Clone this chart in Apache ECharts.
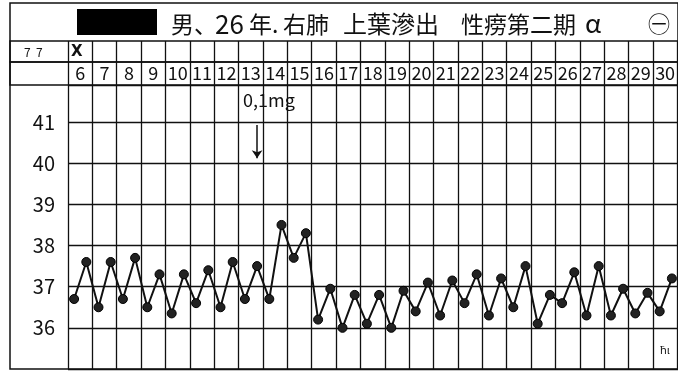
<!DOCTYPE html>
<html>
<head>
<meta charset="utf-8">
<script src="https://cdn.jsdelivr.net/npm/echarts@6/dist/echarts.min.js"></script>
<style>
html, body { margin: 0; padding: 0; background: #fff; }
#chart { width: 678px; height: 372px; }
</style>
</head>
<body>
<div id="chart"></div>
<script>
var dom = document.getElementById("chart");
var myChart = echarts.init(dom);

// days of October (column labels)
var days = ['6','7','8','9','10','11','12','13','14','15','16','17','18','19','20',
            '21','22','23','24','25','26','27','28','29','30'];
// morning / evening temperatures per day
var amTemps = [36.7, 36.5, 36.7, 36.5, 36.35, 36.6, 36.5, 36.7, 36.7, 37.7,
               36.2, 36.0, 36.1, 36.0, 36.4, 36.3, 36.6, 36.3, 36.5, 36.1,
               36.6, 36.3, 36.3, 36.35, 36.4];
var pmTemps = [37.6, 37.6, 37.7, 37.3, 37.3, 37.4, 37.6, 37.5, 38.5, 38.3,
               36.95, 36.8, 36.8, 36.9, 37.1, 37.15, 37.3, 37.2, 37.5, 36.8,
               37.35, 37.5, 36.95, 36.85, 37.2];
var tempTicks = [36, 37, 38, 39, 40, 41];
var doseDay = '13';
var doseText = '0,1mg';

var slots = [];
var temps = [];
for (var i = 0; i < days.length; i++) {
    slots.push(days[i] + '朝', days[i] + '夕');
    temps.push(amTemps[i], pmTemps[i]);
}
var doseSlot = doseDay + '夕';

var ink = '#111';
var cjk = '"Noto Sans CJK JP", "Noto Sans", sans-serif';

function txt(x, y, s, size, extra) {
    var o = {
        type: 'text', x: x, y: y, silent: true,
        style: { text: s, fill: ink, font: size + 'px ' + cjk, textVerticalAlign: 'middle' }
    };
    if (extra) { for (var k in extra) o.style[k] = extra[k]; }
    return o;
}

option = {
    animation: false,
    backgroundColor: '#fff',
    grid: [
        { left: 10, top: 3, right: -5, bottom: 3, show: true, borderColor: ink, borderWidth: 1.5 },
        { left: 10, top: 41, right: -5, height: 21, show: true, borderColor: ink, borderWidth: 1.5 },
        { left: 10, top: 62, right: -5, height: 23, show: true, borderColor: ink, borderWidth: 1.5 },
        { left: 68, top: 41, right: -5, bottom: 3 },
        { left: 68, top: 85, right: -5, bottom: 3 }
    ],
    xAxis: [
        {
            type: 'category', gridIndex: 3, data: days, position: 'top',
            axisLine: { show: false }, axisTick: { show: false },
            axisLabel: { interval: 0, inside: true, margin: 23, color: ink, fontSize: 18, fontFamily: cjk },
            splitLine: { show: true, interval: 0, lineStyle: { color: ink, width: 1.3 } }
        },
        { type: 'category', gridIndex: 4, data: slots, show: false }
    ],
    yAxis: [
        { type: 'value', gridIndex: 3, show: false, min: 0, max: 1 },
        {
            type: 'value', gridIndex: 4, min: 35, max: 41.9, interval: 1,
            axisLine: { show: false }, axisTick: { show: false },
            axisLabel: {
                margin: 13, color: ink, fontSize: 20, fontFamily: cjk,
                formatter: function (v) { return tempTicks.indexOf(v) >= 0 ? String(v) : ''; }
            },
            splitLine: { show: true, lineStyle: { color: ink, width: 1.3 } }
        }
    ],
    series: [{
        type: 'line',
        xAxisIndex: 1,
        yAxisIndex: 1,
        data: temps,
        symbol: 'circle',
        symbolSize: 9,
        showAllSymbol: true,
        itemStyle: { color: '#222', borderColor: '#000', borderWidth: 1 },
        lineStyle: { color: '#111', width: 2 },
        markLine: {
            silent: true,
            symbol: ['none', 'arrow'],
            symbolSize: 8,
            label: { show: false },
            lineStyle: { color: ink, width: 1.5, type: 'solid' },
            data: [[{ coord: [doseSlot, 40.93] }, { coord: [doseSlot, 40.12] }]]
        }
    }],
    graphic: [
        { type: 'rect', shape: { x: 77, y: 9, width: 80, height: 26 }, style: { fill: '#000' }, silent: true },
        txt(171, 24, '男、', 23),
        txt(215, 24, '26', 26),
        txt(249, 24, '年.', 23),
        txt(283, 24, '右肺', 23),
        txt(343, 24, '上葉滲出', 24),
        txt(461, 24, '性痨第二期', 23),
        txt(585, 23, 'α', 26),
        txt(648, 24, '㊀', 22),
        txt(24, 52, '7  7', 12),
        txt(71, 52, 'Ⅹ', 15, { font: 'bold 15px "DejaVu Sans"' }),
        txt(243, 100, doseText, 18),
        txt(660, 350, 'ħι', 11)
    ]
};

if (option && typeof option === "object") {
    myChart.setOption(option, true);
}
</script>
</body>
</html>
